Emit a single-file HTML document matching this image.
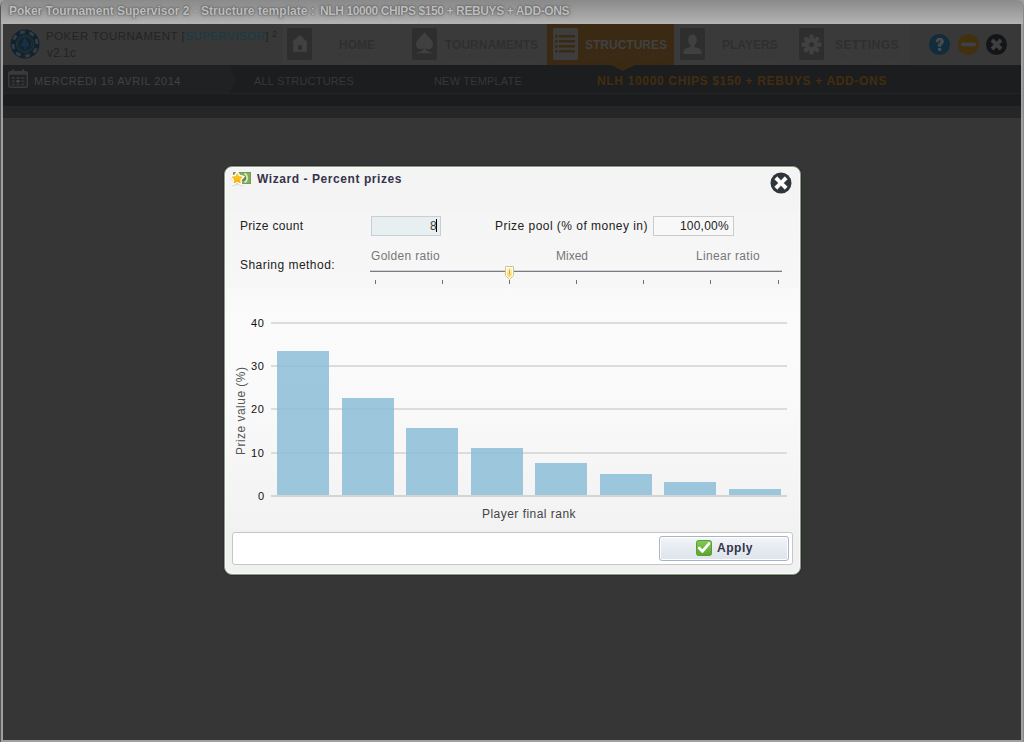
<!DOCTYPE html>
<html><head><meta charset="utf-8">
<style>
*{margin:0;padding:0;box-sizing:border-box}
html,body{width:1024px;height:742px;overflow:hidden;background:#9e9e9e;font-family:"Liberation Sans",sans-serif;position:relative}
.a{position:absolute;white-space:nowrap}
#frame{left:0;top:0;width:1024px;height:742px;background:#a0a0a0;border-left:1px solid #555;border-right:1px solid #8a8a8a;border-radius:7px 7px 0 0}
#titlebar{left:1px;top:0;width:1022px;height:24px;background:linear-gradient(#8a8a8a,#9c9c9c 45%,#b4b4b4);border-radius:6px 6px 0 0}
.ttl{top:4px;font-size:12px;font-weight:bold;color:#bdbdbd;text-shadow:0 0 1px #5a5a5a,0 0 2px #5a5a5a,0 0 4px #707070}
#app{left:3px;top:24px;width:1018px;height:716px;background:#363636;overflow:hidden}
.nav{top:24px;height:41px;background:#373737}
.ibox{top:28px;width:25px;height:32px;background:#2e2e2e;border-radius:2px}
.ntxt{top:38px;font-size:12px;font-weight:bold;color:#2f2f2f;line-height:14px}
.nref{top:49px;font-size:12px;font-weight:bold;color:#353535;line-height:14px;transform:scaleY(-0.7);opacity:.15}
.circ{top:34px;width:21px;height:21px;border-radius:50%}
.bc{top:73.5px;font-size:11px;color:#36373a;line-height:14px}
</style></head><body>
<div id="frame" class="a"></div>
<div id="titlebar" class="a"></div>
<div class="a ttl" style="left:9px;letter-spacing:-0.03px">Poker Tournament Supervisor 2</div>
<div class="a ttl" style="left:194px;opacity:.35">-</div>
<div class="a ttl" style="left:201px;letter-spacing:0.02px">Structure template :</div>
<div class="a ttl" style="left:320px;letter-spacing:-0.39px">NLH 10000 CHIPS $150 + REBUYS + ADD-ONS</div>
<div id="app" class="a"></div>

<!-- nav bar -->
<div class="a nav" style="left:3px;width:1018px;background:#383838"></div>
<div class="a nav" style="left:282px;width:627px;background:#3a3a3a"></div>
<div class="a nav" style="left:547px;width:127px;background:#3a2a14"></div>
<div class="a" style="left:611px;top:65px;width:0;height:0;border-left:12px solid transparent;border-right:12px solid transparent;border-top:6px solid #3a2a14;z-index:3"></div>


<!-- logo -->
<svg class="a" style="left:10px;top:29px" width="30" height="30" viewBox="0 0 30 30">
  <circle cx="15" cy="15" r="14.5" fill="#0f2331"/>
  <g fill="#383c3e" transform="rotate(-12 15 15)">
    <rect x="12.5" y="1.5" width="5" height="3" rx="0.5"/>
    <rect x="12.5" y="25.5" width="5" height="3" rx="0.5"/>
    <rect x="1.5" y="12.5" width="3" height="5" rx="0.5"/>
    <rect x="25.5" y="12.5" width="3" height="5" rx="0.5"/>
    <rect x="12.5" y="1.5" width="5" height="3" rx="0.5" transform="rotate(45 15 15)"/>
    <rect x="12.5" y="25.5" width="5" height="3" rx="0.5" transform="rotate(45 15 15)"/>
    <rect x="1.5" y="12.5" width="3" height="5" rx="0.5" transform="rotate(45 15 15)"/>
    <rect x="25.5" y="12.5" width="3" height="5" rx="0.5" transform="rotate(45 15 15)"/>
  </g>
  <circle cx="15" cy="15" r="8.5" fill="none" stroke="#34393c" stroke-width="0.8"/>
  <circle cx="15" cy="15" r="6.8" fill="none" stroke="#2c3438" stroke-width="0.6"/>
  <path d="M15 9 C13 12 11 13.5 11 16 C11 18 13 18.6 14.3 17.3 L13.5 20 L16.5 20 L15.7 17.3 C17 18.6 19 18 19 16 C19 13.5 17 12 15 9Z" fill="#1a3040"/>
</svg>
<div class="a" style="left:46px;top:29px;font-size:11.5px;letter-spacing:0.49px;color:#232323;line-height:14px">POKER TOURNAMENT [<span style="color:#163c46">SUPERVISOR</span>]</div>
<div class="a" style="left:272px;top:29px;font-size:9px;color:#222;line-height:10px">2</div>
<div class="a" style="left:47px;top:46px;font-size:12px;color:#232323;line-height:14px">v2.1c</div>

<!-- nav items -->
<div class="a ibox" style="left:287px"></div>
<svg class="a" style="left:287px;top:28px" width="25" height="32" viewBox="0 0 25 32">
  <path d="M12.8 7 L21 14.6 L19.9 14.6 L19.9 23.7 L6.2 23.7 L6.2 14.6 L4.8 14.6 Z" fill="#414141"/>
  <rect x="11" y="17.3" width="4" height="4.6" fill="#2e2e2e"/>
</svg>
<div class="a ntxt" style="left:339px">HOME</div>

<div class="a ibox" style="left:412px"></div>
<svg class="a" style="left:412px;top:28px" width="25" height="32" viewBox="0 0 25 32">
  <path d="M12.5 4 C10 8 4 12 4 16.5 C4 19.5 6.3 21.2 8.8 21.2 C10.3 21.2 11.3 20.5 11.8 19.8 C11.5 22 10 23.6 4.5 24.6 L4.5 25.3 L20.5 25.3 L20.5 24.6 C15 23.6 13.5 22 13.2 19.8 C13.7 20.5 14.7 21.2 16.2 21.2 C18.7 21.2 21 19.5 21 16.5 C21 12 15 8 12.5 4 Z" fill="#404040"/>
</svg>
<div class="a ntxt" style="left:445px">TOURNAMENTS</div>

<div class="a ibox" style="left:553px;background:#3d3d3d"></div>
<svg class="a" style="left:553px;top:28px" width="25" height="32" viewBox="0 0 25 32">
  <g fill="#3a2a14">
    <rect x="2" y="7" width="2.6" height="2.6"/><rect x="6" y="7" width="16" height="2.6"/>
    <rect x="2" y="12" width="2.6" height="2.6"/><rect x="6" y="12" width="16" height="2.6"/>
    <rect x="2" y="17" width="2.6" height="2.6"/><rect x="6" y="17" width="16" height="2.6"/>
    <rect x="2" y="22" width="2.6" height="2.6"/><rect x="6" y="22" width="16" height="2.6"/>
  </g>
</svg>
<div class="a ntxt" style="left:585px;color:#414141">STRUCTURES</div>

<div class="a ibox" style="left:680px"></div>
<svg class="a" style="left:680px;top:28px" width="25" height="32" viewBox="0 0 25 32">
  <path d="M12.5 6.5 C9.5 6.5 8.2 9 8.2 12 C8.2 14.5 9.3 16.5 10.5 17.5 L10.5 19 C7 19.8 4 21 3.5 23 L3.5 26 L21.5 26 L21.5 23 C21 21 18 19.8 14.5 19 L14.5 17.5 C15.7 16.5 16.8 14.5 16.8 12 C16.8 9 15.5 6.5 12.5 6.5Z" fill="#404040"/>
</svg>
<div class="a ntxt" style="left:722px">PLAYERS</div>

<div class="a ibox" style="left:799px"></div>
<svg class="a" style="left:799px;top:28px" width="25" height="32" viewBox="0 0 25 32">
  <g fill="#414141" transform="translate(12.5 16.5)">
    <circle r="6.5"/>
    <rect x="-2.2" y="-10" width="4.4" height="5" rx="1.5"/>
    <rect x="-2.2" y="-10" width="4.4" height="5" rx="1.5" transform="rotate(45)"/>
    <rect x="-2.2" y="-10" width="4.4" height="5" rx="1.5" transform="rotate(90)"/>
    <rect x="-2.2" y="-10" width="4.4" height="5" rx="1.5" transform="rotate(135)"/>
    <rect x="-2.2" y="-10" width="4.4" height="5" rx="1.5" transform="rotate(180)"/>
    <rect x="-2.2" y="-10" width="4.4" height="5" rx="1.5" transform="rotate(225)"/>
    <rect x="-2.2" y="-10" width="4.4" height="5" rx="1.5" transform="rotate(270)"/>
    <rect x="-2.2" y="-10" width="4.4" height="5" rx="1.5" transform="rotate(315)"/>
  </g>
  <circle cx="12.5" cy="16.5" r="2.5" fill="#2e2e2e"/>
</svg>
<div class="a ntxt" style="left:835px;letter-spacing:0.5px">SETTINGS</div>

<!-- reflections -->
<div class="a nref" style="left:339px;">HOME</div>
<div class="a nref" style="left:445px;">TOURNAMENTS</div>
<div class="a nref" style="left:585px;color:#3f3a33;">STRUCTURES</div>
<div class="a nref" style="left:722px;">PLAYERS</div>
<div class="a nref" style="left:835px;letter-spacing:0.5px;">SETTINGS</div>
<!-- window buttons -->
<svg class="a" style="left:929px;top:34px" width="21" height="21" viewBox="0 0 21 21">
  <circle cx="10.5" cy="10.5" r="10.5" fill="#112c3a"/>
  <path d="M6.6 8.2 C6.6 5.3 8.6 3.8 10.8 3.8 C13.2 3.8 14.9 5.3 14.9 7.5 C14.9 9.8 12.6 10.2 12.3 11.8 L12.3 12.8 L8.9 12.8 L8.9 11.4 C9.2 9 11.5 8.8 11.5 7.6 C11.5 7 11.1 6.6 10.6 6.6 C10 6.6 9.7 7.2 9.7 8.2 Z" fill="#484b4d"/>
  <rect x="8.9" y="13.9" width="3.4" height="3" fill="#484b4d"/>
</svg>
<svg class="a" style="left:958px;top:34px" width="21" height="21" viewBox="0 0 21 21">
  <circle cx="10.5" cy="10.5" r="10.5" fill="#42300f"/>
  <rect x="3.3" y="8.6" width="14.4" height="3.8" fill="#3e4246"/>
</svg>
<svg class="a" style="left:986px;top:34px" width="21" height="21" viewBox="0 0 21 21">
  <circle cx="10.5" cy="10.5" r="10.5" fill="#141516"/>
  <path d="M4.6 7.4 L7.4 4.6 L10.5 7.7 L13.6 4.6 L16.4 7.4 L13.3 10.5 L16.4 13.6 L13.6 16.4 L10.5 13.3 L7.4 16.4 L4.6 13.6 L7.7 10.5 Z" fill="#3e4042"/>
</svg>

<!-- date / breadcrumb bar -->
<div class="a" style="left:3px;top:65px;width:1018px;height:29px;background:#1c1d1e"></div>
<div class="a" style="left:3px;top:65px;width:227px;height:29px;background:#202122"></div>
<div class="a" style="left:230px;top:65px;width:0;height:0;border-top:14.5px solid transparent;border-bottom:14.5px solid transparent;border-left:6px solid #202122"></div>
<div class="a" style="left:3px;top:93px;width:1018px;height:1px;background:#232425"></div>
<div class="a" style="left:3px;top:94px;width:1018px;height:12px;background:#1b1c1d"></div>
<div class="a" style="left:3px;top:106px;width:1018px;height:12px;background:#262626"></div>

<svg class="a" style="left:8px;top:69px" width="20" height="19" viewBox="0 0 20 19">
  <rect x="0.75" y="2.75" width="18.5" height="15.5" rx="1.5" fill="none" stroke="#3a3b3c" stroke-width="1.5"/>
  <rect x="0.75" y="2.75" width="18.5" height="3" fill="#3a3b3c"/>
  <rect x="4" y="0.5" width="2" height="3.5" fill="#3a3b3c"/><rect x="14" y="0.5" width="2" height="3.5" fill="#3a3b3c"/>
  <g fill="#333435">
    <rect x="3.5" y="8" width="3.5" height="2"/><rect x="8.3" y="8" width="3.5" height="2"/><rect x="13" y="8" width="3.5" height="2"/>
    <rect x="3.5" y="11.3" width="3.5" height="2"/><rect x="13" y="11.3" width="3.5" height="2"/>
    <rect x="3.5" y="14.5" width="3.5" height="2"/><rect x="8.3" y="14.5" width="3.5" height="2"/><rect x="13" y="14.5" width="3.5" height="2"/>
  </g>
  <rect x="8.3" y="11.3" width="3.5" height="2" fill="#4a4b4c"/>
</svg>
<div class="a bc" style="left:34px;color:#404143;letter-spacing:0.57px">MERCREDI 16 AVRIL 2014</div>
<div class="a bc" style="left:254px;letter-spacing:0.18px">ALL STRUCTURES</div>
<div class="a bc" style="left:434px;letter-spacing:0.18px">NEW TEMPLATE</div>
<div class="a bc" style="left:597px;font-size:12px;font-weight:bold;color:#432d0f;top:74px;letter-spacing:0.66px">NLH 10000 CHIPS $150 + REBUYS + ADD-ONS</div>


<!-- dialog -->
<div class="a" style="left:224px;top:166px;width:577px;height:409px;background:#f1f1f1;border:1px solid #869a84;border-radius:8px;box-shadow:inset 0 0 0 1px #fafafa,0 0 0 1px #2e2e2e"></div>
<div class="a" style="left:226px;top:168px;width:573px;height:43px;background:#f4f4f4;border-radius:7px 7px 0 0"></div>
<div class="a" style="left:226px;top:211px;width:573px;height:77px;background:linear-gradient(#f5f5f5,#f7f7f7)"></div>
<div class="a" style="left:226px;top:288px;width:573px;height:242px;background:linear-gradient(#f9f9f9,#fbfbfb 20%,#f9f9f9 50%,#f2f2f2)"></div>
<!-- header icon -->
<svg class="a" style="left:228px;top:168px" width="26" height="20" viewBox="0 0 26 20">
  <defs><linearGradient id="sg" x1="0" y1="0" x2="0" y2="1"><stop offset="0" stop-color="#ffd84a"/><stop offset="1" stop-color="#f5a900"/></linearGradient></defs>
  <rect x="5" y="4" width="18" height="12" fill="#779a52"/>
  <rect x="6" y="5" width="16" height="10" fill="#86aa62"/>
  <circle cx="15" cy="10" r="3" fill="#5f8240"/>
  <path d="M16.5 5.5 C20 7 20 13 16.5 14.5" fill="none" stroke="#d8efb8" stroke-width="1.6"/>
  <path d="M9.20 3.20 L11.55 7.36 L16.24 8.31 L13.00 11.84 L13.55 16.59 L9.20 14.60 L4.85 16.59 L5.40 11.84 L2.16 8.31 L6.85 7.36 Z" fill="#b0b0b0" opacity="0.45" transform="translate(0.2 0.9)" stroke="#b0b0b0" stroke-width="1.6" stroke-linejoin="round"/>
  <path d="M9.20 3.20 L11.55 7.36 L16.24 8.31 L13.00 11.84 L13.55 16.59 L9.20 14.60 L4.85 16.59 L5.40 11.84 L2.16 8.31 L6.85 7.36 Z" fill="url(#sg)" stroke="#ffffff" stroke-width="1.3" stroke-linejoin="round"/>
</svg>
<div class="a" style="left:257px;top:172px;font-size:12px;font-weight:bold;color:#34344c;letter-spacing:0.57px;line-height:14px">Wizard - Percent prizes</div>
<svg class="a" style="left:770px;top:172px" width="22" height="22" viewBox="0 0 22 22">
  <circle cx="11" cy="11" r="10.5" fill="#2f3639"/>
  <path d="M4.6 7.2 L7.2 4.6 L11 8.4 L14.8 4.6 L17.4 7.2 L13.6 11 L17.4 14.8 L14.8 17.4 L11 13.6 L7.2 17.4 L4.6 14.8 L8.4 11 Z" fill="#ffffff" stroke="#ffffff" stroke-width="0.3" stroke-linejoin="round"/>
</svg>

<!-- form -->
<div class="a" style="left:240px;top:219px;font-size:12px;letter-spacing:0.3px;color:#222;line-height:14px">Prize count</div>
<div class="a" style="left:371px;top:216px;width:70px;height:20px;background:#e8eff1;border:1px solid #c6d0d4"></div>
<div class="a" style="left:430px;top:219px;font-size:12px;color:#3a3a3a;line-height:14px">8</div>
<div class="a" style="left:436px;top:219px;width:1px;height:13px;background:#000"></div>
<div class="a" style="left:495px;top:219px;font-size:12px;letter-spacing:0.47px;color:#222;line-height:14px">Prize pool (% of money in)</div>
<div class="a" style="left:653px;top:216px;width:81px;height:20px;background:#f8f8f8;border:1px solid #c9cccd"></div>
<div class="a" style="left:680px;top:219px;font-size:12px;letter-spacing:0.2px;color:#222;line-height:14px">100,00%</div>

<div class="a" style="left:240px;top:258px;font-size:12px;letter-spacing:0.47px;color:#222;line-height:14px">Sharing method:</div>
<div class="a" style="left:371px;top:249px;font-size:12px;letter-spacing:0.3px;color:#777;line-height:14px">Golden ratio</div>
<div class="a" style="left:556px;top:249px;font-size:12px;color:#777;line-height:14px">Mixed</div>
<div class="a" style="left:696px;top:249px;font-size:12px;letter-spacing:0.33px;color:#777;line-height:14px">Linear ratio</div>
<div class="a" style="left:370px;top:271px;width:412px;height:1px;background:#7a7a82;box-shadow:0 -1px 0 #d4d4d8"></div>
<svg class="a" style="left:368px;top:279px" width="416" height="6" viewBox="0 0 416 6">
  <g fill="#707070">
    <rect x="7" y="1" width="1" height="4"/><rect x="74" y="1" width="1" height="4"/><rect x="141" y="1" width="1" height="4"/>
    <rect x="208" y="1" width="1" height="4"/><rect x="275" y="1" width="1" height="4"/><rect x="342" y="1" width="1" height="4"/><rect x="410" y="1" width="1" height="4"/>
  </g>
</svg>
<svg class="a" style="left:504px;top:265px" width="11" height="16" viewBox="0 0 11 16">
  <defs><linearGradient id="tg" x1="0" y1="0" x2="0" y2="1"><stop offset="0" stop-color="#fff6d0"/><stop offset="1" stop-color="#ffd448"/></linearGradient></defs>
  <path d="M1.5 1.5 L9.5 1.5 L9.5 10.5 L5.5 14.5 L1.5 10.5 Z" fill="#ffffff" stroke="#cfc588" stroke-width="1"/>
  <path d="M2.8 2.8 L8.2 2.8 L8.2 10 L5.5 12.8 L2.8 10 Z" fill="url(#tg)"/>
  <rect x="5" y="4.5" width="1" height="5" fill="#c0a860"/>
</svg>


<!-- chart -->
<div class="a" style="left:271px;top:322px;width:516px;height:2px;background:#dcdcdc"></div>
<div class="a" style="left:271px;top:365px;width:516px;height:2px;background:#dcdcdc"></div>
<div class="a" style="left:271px;top:408px;width:516px;height:2px;background:#dcdcdc"></div>
<div class="a" style="left:271px;top:452px;width:516px;height:2px;background:#dcdcdc"></div>
<div class="a" style="left:277px;top:351px;width:52px;height:145px;background:rgba(140,189,215,0.85)"></div>
<div class="a" style="left:342px;top:398px;width:52px;height:98px;background:rgba(140,189,215,0.85)"></div>
<div class="a" style="left:406px;top:428px;width:52px;height:68px;background:rgba(140,189,215,0.85)"></div>
<div class="a" style="left:471px;top:448px;width:52px;height:48px;background:rgba(140,189,215,0.85)"></div>
<div class="a" style="left:535px;top:463px;width:52px;height:33px;background:rgba(140,189,215,0.85)"></div>
<div class="a" style="left:600px;top:474px;width:52px;height:22px;background:rgba(140,189,215,0.85)"></div>
<div class="a" style="left:664px;top:482px;width:52px;height:14px;background:rgba(140,189,215,0.85)"></div>
<div class="a" style="left:729px;top:489px;width:52px;height:7px;background:rgba(140,189,215,0.85)"></div>

<div class="a" style="left:271px;top:495px;width:516px;height:2px;background:#d4d4d4"></div>
<div class="a" style="left:251px;top:317px;font-size:11px;letter-spacing:0.6px;color:#111;line-height:12px">40</div>
<div class="a" style="left:251px;top:360px;font-size:11px;letter-spacing:0.6px;color:#111;line-height:12px">30</div>
<div class="a" style="left:251px;top:403px;font-size:11px;letter-spacing:0.6px;color:#111;line-height:12px">20</div>
<div class="a" style="left:251px;top:447px;font-size:11px;letter-spacing:0.6px;color:#111;line-height:12px">10</div>
<div class="a" style="left:258px;top:490px;font-size:11px;color:#111;line-height:12px">0</div>
<div class="a" style="left:241px;top:411px;width:0;height:0"><div style="position:absolute;left:-44px;top:-7px;width:88px;text-align:center;font-size:12px;letter-spacing:0.47px;color:#555;line-height:14px;transform:rotate(-90deg);white-space:nowrap">Prize value (%)</div></div>
<div class="a" style="left:482px;top:507px;font-size:12px;letter-spacing:0.47px;color:#444;line-height:14px">Player final rank</div>

<!-- footer -->
<div class="a" style="left:232px;top:532px;width:561px;height:33px;background:#fff;border:1px solid #c6c6c6;border-radius:3px"></div>
<div class="a" style="left:659px;top:536px;width:130px;height:25px;border:1px solid #a9b5c6;border-radius:3px;background:linear-gradient(#f3f6f9,#e6ebf1 50%,#dde4ec);box-shadow:inset 0 0 0 1px #fff"></div>
<svg class="a" style="left:696px;top:540px" width="16" height="16" viewBox="0 0 16 16">
  <defs><linearGradient id="cg" x1="0" y1="0" x2="0" y2="1"><stop offset="0" stop-color="#86c856"/><stop offset="1" stop-color="#5aa532"/></linearGradient></defs>
  <rect x="0.5" y="0.5" width="15" height="15" rx="2" fill="url(#cg)" stroke="#56a02e"/>
  <path d="M3.2 8 L6.4 11.4 L13 3.6" fill="none" stroke="#fff" stroke-width="2.8" stroke-linejoin="round" stroke-linecap="round"/>
</svg>
<div class="a" style="left:717px;top:541px;font-size:12px;font-weight:bold;color:#34344c;letter-spacing:0.55px;line-height:14px">Apply</div>

</body></html>
